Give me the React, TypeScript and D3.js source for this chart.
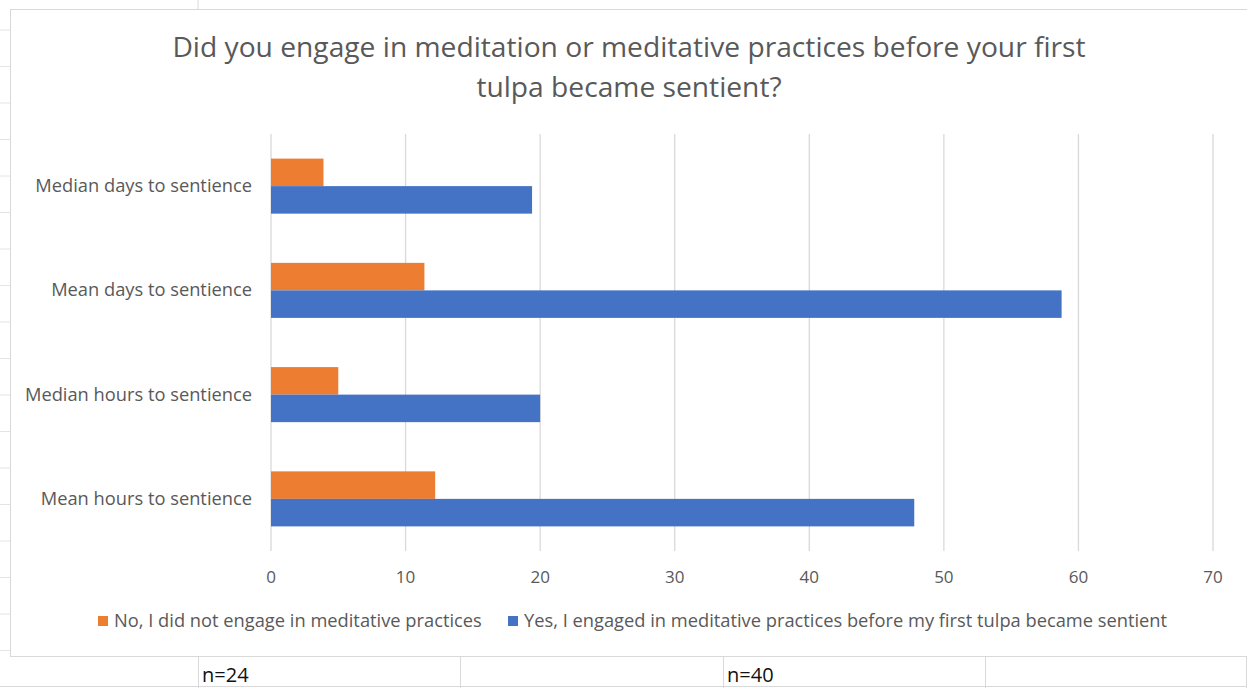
import React from "react";
import * as d3 from "d3";

const categories = [
  "Median days to sentience",
  "Mean days to sentience",
  "Median hours to sentience",
  "Mean hours to sentience",
];
const seriesKeys = ["no", "yes"];
const seriesNames = [
  "No, I did not engage in meditative practices",
  "Yes, I engaged in meditative practices before my first tulpa became sentient",
];
const seriesColors = ["#ED7D31", "#4472C4"];
const noValues = [3.9, 11.4, 5.0, 12.2];
const yesValues = [19.4, 58.75, 20.0, 47.8];
const xTicks = [0, 10, 20, 30, 40, 50, 60, 70];
const titleLines = [
  "Did you engage in meditation or meditative practices before your first",
  "tulpa became sentient?",
];
const sampleLabels = ["n=24", "n=40"];

const W = 1247;
const H = 688;
const FONT = "'Open Sans', 'Noto Sans', sans-serif";
const TXT = "#595959";
const GRID = "#d9d9d9";

export default function App() {
  const x = d3.scaleLinear().domain([0, 70]).range([271, 1213]);
  const y = d3.scaleBand().domain(categories).range([134, 551]);
  const inner = d3
    .scaleBand()
    .domain(seriesKeys)
    .range([0, y.bandwidth()])
    .paddingInner(0)
    .paddingOuter(0.895);
  const values = [noValues, yesValues];

  const rowLines = d3.range(0, 18).map((k) => 30 + 36.5 * k);
  const colLines = [198, 460, 723, 985, 1246];

  return (
    <svg
      width={W}
      height={H}
      style={{ position: "absolute", left: 0, top: 0, background: "#fff" }}
      fontFamily={FONT}
    >
      <rect x={0} y={0} width={W} height={H} fill="#fff" />
      {/* spreadsheet row ticks on the left */}
      {rowLines.filter((r) => r < 656).map((r, i) => (
        <line key={"r" + i} x1={0} x2={10} y1={r} y2={r} stroke="#e4e4e4" />
      ))}
      <line x1={198} x2={198} y1={0} y2={9} stroke={GRID} />
      {/* chart border */}
      <rect x={10.5} y={9.5} width={1250} height={647} fill="none" stroke={GRID} />
      {/* bottom spreadsheet row */}
      <line x1={0} x2={W} y1={686.5} y2={686.5} stroke={GRID} />
      {colLines.map((c, i) => (
        <line key={"c" + i} x1={c + 0.5} x2={c + 0.5} y1={657} y2={688} stroke={GRID} />
      ))}
      {sampleLabels.map((s, i) => (
        <text key={s} x={[202, 727][i]} y={682} fontSize={20} fill="#111">
          {s}
        </text>
      ))}

      {/* title */}
      {titleLines.map((t, i) => (
        <text
          key={i}
          x={629}
          y={57 + i * 40}
          textAnchor="middle"
          fontSize={28.2}
          fill={TXT}
        >
          {t}
        </text>
      ))}

      {/* gridlines */}
      {xTicks.map((t) => (
        <line
          key={"g" + t}
          x1={x(t)}
          x2={x(t)}
          y1={134}
          y2={551}
          stroke={GRID}
          strokeWidth={1.3}
        />
      ))}
      {xTicks.map((t) => (
        <text key={"t" + t} x={x(t)} y={583} textAnchor="middle" fontSize={17} fill={TXT}>
          {t}
        </text>
      ))}

      {/* bars */}
      {categories.map((c, ci) =>
        seriesKeys.map((k, si) => (
          <rect
            key={c + k}
            x={x(0)}
            y={(y(c) as number) + (inner(k) as number)}
            width={x(values[si][ci]) - x(0)}
            height={inner.bandwidth()}
            fill={seriesColors[si]}
          />
        ))
      )}

      {/* category labels */}
      {categories.map((c) => (
        <text
          key={"l" + c}
          x={252}
          y={(y(c) as number) + y.bandwidth() / 2 + 6}
          textAnchor="end"
          fontSize={18.3}
          fill={TXT}
        >
          {c}
        </text>
      ))}

      {/* legend */}
      {seriesNames.map((n, i) => {
        const lx = [98, 508][i];
        return (
          <g key={n}>
            <rect x={lx} y={616} width={10} height={10} fill={seriesColors[i]} />
            <text x={lx + 16} y={627} fontSize={18.3} fill={TXT}>
              {n}
            </text>
          </g>
        );
      })}
    </svg>
  );
}
